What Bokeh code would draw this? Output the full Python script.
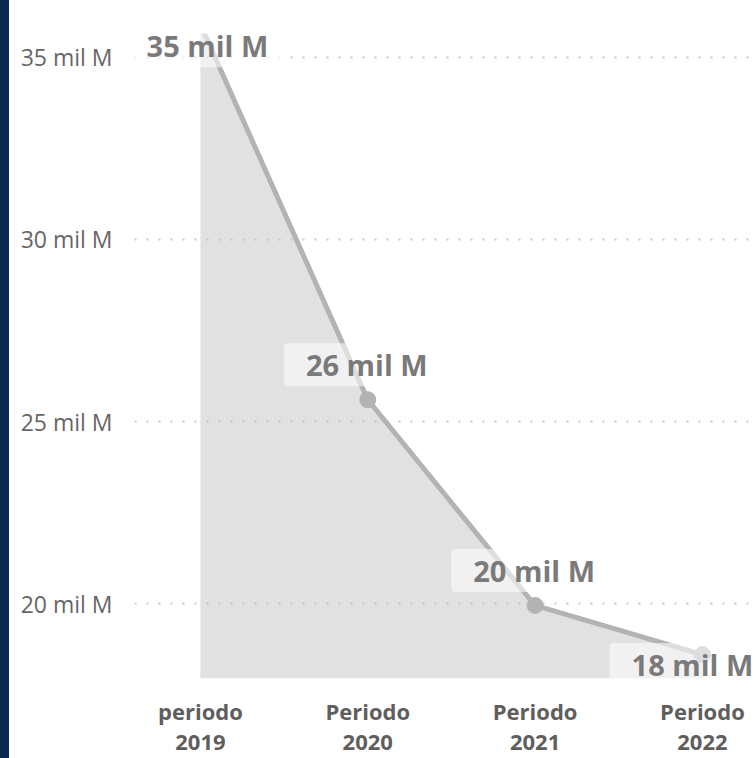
from bokeh.plotting import figure
from bokeh.models import FixedTicker, Label, Range1d, BoxAnnotation, Div
from bokeh.layouts import row
from bokeh.embed import file_html
from bokeh.resources import INLINE

# ---- data ----
categories = ["periodo\n2019", "Periodo\n2020", "Periodo\n2021", "Periodo\n2022"]
values = [35.9, 25.6, 19.95, 18.6]          # miles de millones
value_labels = ["35 mil M", "26 mil M", "20 mil M", "18 mil M"]
y_ticks = [20, 25, 30, 35]
y_tick_labels = ["20 mil M", "25 mil M", "30 mil M", "35 mil M"]

# ---- styles ----
FONT = "Open Sans"
LINE_C = "#b3b3b3"
label_offsets = [(7, -21), (-1, 35), (-1, 35), (-10, -10)]
Y_MIN, Y_MAX = 17.944, 36.563
CLIP_TOP = 35.658   # top of the plotting area in the original visual

x = list(range(len(categories)))

p = figure(width=747, height=758,
           x_range=Range1d(-0.394, 3.323), y_range=Range1d(Y_MIN, Y_MAX),
           output_backend="svg", toolbar_location=None,
           min_border_left=125, min_border_right=0,
           min_border_top=0, min_border_bottom=79)
p.outline_line_color = None
p.background_fill_color = "white"
p.border_fill_color = "white"

p.varea(x=x, y1=Y_MIN, y2=values, fill_color=LINE_C, fill_alpha=0.4)
p.line(x, values, line_color=LINE_C, line_width=5)
p.scatter(x, values, size=16, fill_color=LINE_C, line_color=LINE_C)

p.xgrid.visible = False
p.ygrid.ticker = FixedTicker(ticks=y_ticks)
p.ygrid.grid_line_color = "#c8c8c8"
p.ygrid.grid_line_width = 2
p.ygrid.grid_line_dash = "2 10"

for ax in (p.xaxis, p.yaxis):
    ax.axis_line_color = None
    ax.major_tick_line_color = None
    ax.minor_tick_line_color = None
    ax.major_label_text_font = FONT

p.yaxis.ticker = FixedTicker(ticks=y_ticks)
p.yaxis.major_label_overrides = dict(zip(y_ticks, y_tick_labels))
p.yaxis.major_label_standoff = 16
p.yaxis.major_label_text_font_size = "23px"
p.yaxis.major_label_text_color = "#666666"

p.xaxis.ticker = FixedTicker(ticks=x)
p.xaxis.major_label_overrides = dict(zip(x, categories))
p.xaxis.major_label_standoff = 11
p.xaxis.major_label_text_font_size = "22px"
p.xaxis.major_label_text_font_style = "bold"
p.xaxis.major_label_text_color = "#605e5c"
p.xaxis.major_label_text_line_height = 1.0

# plot-area clipping of the original visual (line leaves the top edge)
p.add_layout(BoxAnnotation(bottom=CLIP_TOP, fill_color="white", fill_alpha=1.0,
                           line_color=None))

for xi, yi, t, (dx, dy) in zip(x, values, value_labels, label_offsets):
    p.add_layout(Label(x=xi, y=yi, text=t, x_offset=dx, y_offset=dy,
                       text_align="center", text_baseline="middle",
                       text_font=FONT, text_font_size="29px",
                       text_font_style="bold", text_color="#7a7a7a",
                       background_fill_color="white", background_fill_alpha=0.55,
                       padding=(22, 22, 2, 2), border_radius=4))

stripe = Div(width=9, height=758, text="", margin=(0, 0, 0, 0),
             styles={"background-color": "#0a2a52", "padding": "0px"})

layout = row(stripe, p, spacing=0)
open("out.html", "w").write(file_html(layout, INLINE))
